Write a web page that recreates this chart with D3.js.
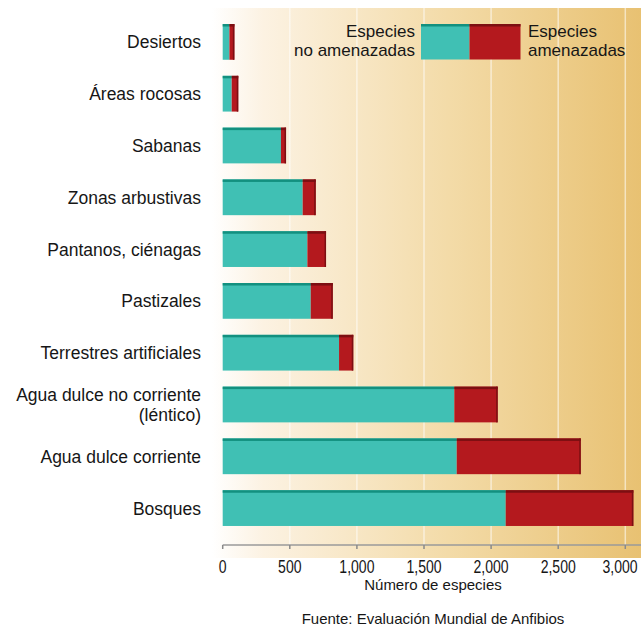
<!DOCTYPE html>
<html>
<head>
<meta charset="utf-8">
<script src="https://cdn.jsdelivr.net/npm/d3@7"></script>
<style>
  body { margin: 0; background: #fff; }
  text { font-family: "Liberation Sans", Arial, Helvetica, sans-serif; fill: #161616; }
</style>
</head>
<body>
<div id="chart"></div>
<script>
// ---------------- data ----------------
var habitats = ["Desiertos", "Áreas rocosas", "Sabanas", "Zonas arbustivas", "Pantanos, ciénagas",
  "Pastizales", "Terrestres artificiales", "Agua dulce no corriente\n(léntico)", "Agua dulce corriente", "Bosques"]
var noAmenazadas = [50, 67, 434, 596, 631, 656, 867, 1726, 1744, 2109]
var amenazadas   = [37, 49, 38, 97, 139, 164, 106, 323, 924, 951]
var tickValues = [0, 500, 1000, 1500, 2000, 2500, 3000]
var legendLeft = ["Especies", "no amenazadas"]
var legendRight = ["Especies", "amenazadas"]
var axisTitle = "Número de especies"
var source = "Fuente: Evaluación Mundial de Anfibios"

// ---------------- setup ----------------
var totalWidth = 641, totalHeight = 629
var teal = "#40c0b4", tealDark = "#13907f"
var red = "#b4191e", redDark = "#7c0f12"

var svg = d3.select("#chart").append("svg")
  .attr("width", totalWidth)
  .attr("height", totalHeight)

var defs = svg.append("defs")
var grad = defs.append("linearGradient").attr("id", "bg").attr("x1", "0%").attr("x2", "100%")
grad.append("stop").attr("offset", "0%").attr("stop-color", "#ffffff")
grad.append("stop").attr("offset", "12%").attr("stop-color", "#fcf2e2")
grad.append("stop").attr("offset", "55%").attr("stop-color", "#f3dba8")
grad.append("stop").attr("offset", "100%").attr("stop-color", "#e8c172")

var x = d3.scaleLinear().domain([0, 3000]).range([222.7, 625.3])
var y = d3.scaleBand().domain(habitats).range([16, 534]).paddingInner(0.31).paddingOuter(0.155)

// background panel
svg.append("rect")
  .attr("x", 212).attr("y", 8)
  .attr("width", totalWidth - 212).attr("height", 550)
  .attr("fill", "url(#bg)")

// faint vertical gridlines
svg.selectAll(".grid").data(tickValues.slice(1)).enter().append("line")
  .attr("x1", d => x(d)).attr("x2", d => x(d))
  .attr("y1", 8).attr("y2", 545)
  .attr("stroke", "#ffffff").attr("stroke-opacity", 0.55).attr("stroke-width", 1.5)

// ---------------- bars ----------------
var rows = habitats.map((h, i) => ({ name: h, a: noAmenazadas[i], b: amenazadas[i] }))
var bar = svg.selectAll(".bar").data(rows).enter().append("g").attr("class", "bar")

bar.append("rect")
  .attr("x", x(0)).attr("y", d => y(d.name))
  .attr("width", d => x(d.a) - x(0)).attr("height", y.bandwidth())
  .attr("fill", teal)
bar.append("rect")
  .attr("x", d => x(d.a)).attr("y", d => y(d.name))
  .attr("width", d => x(d.a + d.b) - x(d.a)).attr("height", y.bandwidth())
  .attr("fill", red)
// darker top edges
bar.append("rect")
  .attr("x", x(0)).attr("y", d => y(d.name))
  .attr("width", d => x(d.a) - x(0)).attr("height", 2.5)
  .attr("fill", tealDark)
bar.append("rect")
  .attr("x", d => x(d.a)).attr("y", d => y(d.name))
  .attr("width", d => x(d.a + d.b) - x(d.a)).attr("height", 2.5)
  .attr("fill", redDark)
// right shade
bar.append("rect")
  .attr("x", d => x(d.a + d.b) - 1.5).attr("y", d => y(d.name))
  .attr("width", 1.5).attr("height", y.bandwidth())
  .attr("fill", redDark)

// category labels
var lab = svg.selectAll(".lab").data(rows).enter().append("text")
  .attr("class", "lab")
  .attr("text-anchor", "end")
  .attr("font-size", "17.5px")
lab.each(function(d) {
  var lines = d.name.split("\n")
  var cy = y(d.name) + y.bandwidth() / 2
  var t = d3.select(this)
  lines.forEach((l, i) => {
    t.append("tspan")
      .attr("x", 201)
      .attr("y", cy + 6.5 + (i - (lines.length - 1) / 2) * 20)
      .text(l)
  })
})

// ---------------- axis ----------------
var axis = svg.append("g").attr("transform", "translate(0,545)")
axis.append("line").attr("x1", x(0)).attr("x2", totalWidth).attr("stroke", "#9a9a9a").attr("stroke-width", 1.5)
axis.selectAll(".tick").data(tickValues).enter().append("line")
  .attr("x1", d => x(d)).attr("x2", d => x(d)).attr("y1", 0).attr("y2", 4)
  .attr("stroke", "#8a8a8a").attr("stroke-width", 1.5)
axis.selectAll(".tl").data(tickValues).enter().append("text")
  .attr("text-anchor", "middle")
  .attr("font-size", "18px")
  // keep the last label inside the frame
  .attr("transform", d => "translate(" + Math.min(x(d), totalWidth - 21) + ",28) scale(0.78,1)")
  .text(d => d3.format(",")(d))

svg.append("text").attr("x", 433).attr("y", 590).attr("text-anchor", "middle")
  .attr("font-size", "15px").text(axisTitle)
svg.append("text").attr("x", 433).attr("y", 624).attr("text-anchor", "middle")
  .attr("font-size", "15px").text(source)

// ---------------- legend ----------------
var lg = svg.append("g")
lg.append("rect").attr("x", 421).attr("y", 24).attr("width", 48.5).attr("height", 35.5).attr("fill", teal)
lg.append("rect").attr("x", 469.5).attr("y", 24).attr("width", 51).attr("height", 35.5).attr("fill", red)
lg.append("rect").attr("x", 421).attr("y", 24).attr("width", 48.5).attr("height", 2.5).attr("fill", tealDark)
lg.append("rect").attr("x", 469.5).attr("y", 24).attr("width", 51).attr("height", 2.5).attr("fill", redDark)
legendLeft.forEach((t, i) => {
  lg.append("text").attr("x", 415).attr("y", 37 + i * 19).attr("text-anchor", "end")
    .attr("font-size", "17px").text(t)
})
legendRight.forEach((t, i) => {
  lg.append("text").attr("x", 528).attr("y", 37 + i * 19)
    .attr("font-size", "17px").text(t)
})
</script>
</body>
</html>
